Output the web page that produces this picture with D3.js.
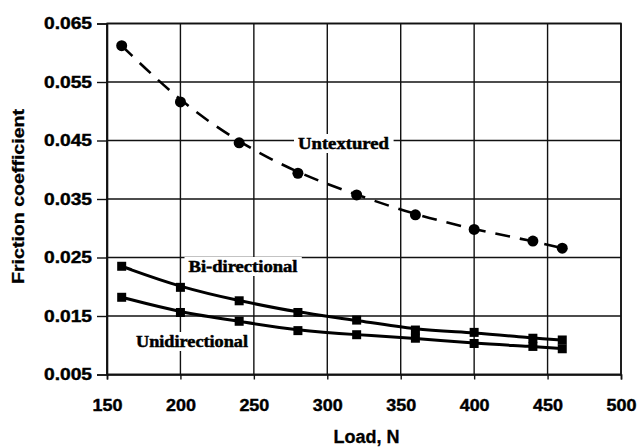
<!DOCTYPE html>
<html>
<head>
<meta charset="utf-8">
<script src="https://cdn.jsdelivr.net/npm/d3@7"></script>
<style>
  html, body { margin: 0; padding: 0; background: #fff; }
  svg { display: block; }
</style>
</head>
<body>
<svg id="chart" width="640" height="448"></svg>
<script>
// Load values (N) and measured friction coefficients
const loads = [160, 200, 240, 280, 320, 360, 400, 440, 460];
const untextured = [0.0612, 0.0516, 0.0446, 0.0394, 0.0357, 0.0323, 0.0298, 0.0278, 0.0266];
const biDirectional = [0.0235, 0.0199, 0.0176, 0.0156, 0.0143, 0.0126, 0.0122, 0.0112, 0.0109];
const unidirectional = [0.0182, 0.0156, 0.0141, 0.0125, 0.0118, 0.0112, 0.0103, 0.0098, 0.0094];
const xTicks = [150, 200, 250, 300, 350, 400, 450, 500];
const yTicks = [0.005, 0.015, 0.025, 0.035, 0.045, 0.055, 0.065];

const svg = d3.select("#chart");
const plotLeft = 107, plotRight = 621, plotTop = 23.5, plotBottom = 374.5;

const x = d3.scaleLinear().domain([150, 500]).range([plotLeft, plotRight]);
const y = d3.scaleLinear().domain([0.005, 0.065]).range([plotBottom, plotTop]);

// widen a text element horizontally by a factor
function stretch(sel, k) {
  sel.each(function () {
    const w = this.getComputedTextLength();
    d3.select(this).attr("textLength", w * k).attr("lengthAdjust", "spacingAndGlyphs");
  });
}

// grid
const grid = svg.append("g").attr("stroke", "#111").attr("stroke-width", 1.4);
grid.selectAll(".gx").data(xTicks).join("line")
  .attr("x1", d => x(d)).attr("x2", d => x(d)).attr("y1", plotTop).attr("y2", plotBottom);
grid.selectAll(".gy").data(yTicks).join("line")
  .attr("x1", plotLeft).attr("x2", plotRight).attr("y1", d => y(d)).attr("y2", d => y(d));

// axes
const fontAx = "'Liberation Sans', Arial, sans-serif";
const xAxis = svg.append("g").attr("transform", `translate(0,${plotBottom})`)
  .call(d3.axisBottom(x).tickValues(xTicks).tickSize(5).tickPadding(20).tickFormat(d3.format("d")));
const yAxis = svg.append("g").attr("transform", `translate(${plotLeft},0)`)
  .call(d3.axisLeft(y).tickValues(yTicks).tickSize(10).tickPadding(5).tickFormat(d3.format(".3f")));
[xAxis, yAxis].forEach(g => {
  g.select(".domain").attr("stroke", "#111").attr("stroke-width", 1.6);
  g.selectAll(".tick line").attr("stroke", "#111").attr("stroke-width", 1.4);
  g.selectAll("text").attr("font-family", fontAx).attr("font-weight", "bold")
    .attr("font-size", 16).attr("fill", "#000")
    .attr("stroke", "#000").attr("stroke-width", 0.4);
});
stretch(xAxis.selectAll("text"), 1.12);
stretch(yAxis.selectAll("text"), 1.2);

// frame
svg.append("rect").attr("x", plotLeft).attr("y", plotTop)
  .attr("width", plotRight - plotLeft).attr("height", plotBottom - plotTop)
  .attr("fill", "none").attr("stroke", "#111").attr("stroke-width", 1.6);

// axis titles
svg.append("text").attr("x", 366.5).attr("y", 443).attr("text-anchor", "middle")
  .attr("font-family", fontAx).attr("font-weight", "bold").attr("font-size", 18)
  .attr("stroke", "#000").attr("stroke-width", 0.3)
  .text("Load, N");
svg.append("text").attr("transform", "translate(24,196.5) rotate(-90)").attr("text-anchor", "middle")
  .attr("font-family", fontAx).attr("font-weight", "bold").attr("font-size", 17)
  .attr("stroke", "#000").attr("stroke-width", 0.3)
  .attr("textLength", 175).attr("lengthAdjust", "spacingAndGlyphs")
  .text("Friction coefficient");

// series labels with white backing
const serif = "'Liberation Serif', 'Times New Roman', serif";
function label(txt, cx, cy, w) {
  const t = svg.append("text").attr("x", cx).attr("y", cy).attr("text-anchor", "middle")
    .attr("font-family", serif).attr("font-weight", "bold").attr("font-size", 17)
    .attr("stroke", "#000").attr("stroke-width", 0.5)
    .attr("textLength", w).attr("lengthAdjust", "spacingAndGlyphs").text(txt);
  const b = t.node().getBBox();
  svg.insert("rect", () => t.node()).attr("x", b.x - 4).attr("y", b.y).attr("width", b.width + 8)
    .attr("height", b.height).attr("fill", "#fff");
}

// series curves
const line = d3.line().x((d, i) => x(loads[i])).y(d => y(d)).curve(d3.curveBasis);
function series(vals, dashed) {
  svg.append("path").attr("d", line(vals)).attr("fill", "none").attr("stroke", "#000")
    .attr("stroke-width", dashed ? 2.6 : 3).attr("stroke-dasharray", dashed ? "15,10" : null);
}

label("Untextured", 343.5, 149, 91);
label("Bi-directional", 243, 272, 109);
label("Unidirectional", 192, 347, 112);

series(untextured, true);
series(biDirectional, false);
series(unidirectional, false);

svg.selectAll(".pu").data(untextured).join("circle")
  .attr("cx", (d, i) => x(loads[i])).attr("cy", d => y(d)).attr("r", 5.5).attr("fill", "#000");
[biDirectional, unidirectional].forEach(vals => {
  svg.append("g").selectAll("rect").data(vals).join("rect")
    .attr("x", (d, i) => x(loads[i]) - 4.5).attr("y", d => y(d) - 4.5)
    .attr("width", 9).attr("height", 9).attr("fill", "#000");
});
</script>
</body>
</html>
